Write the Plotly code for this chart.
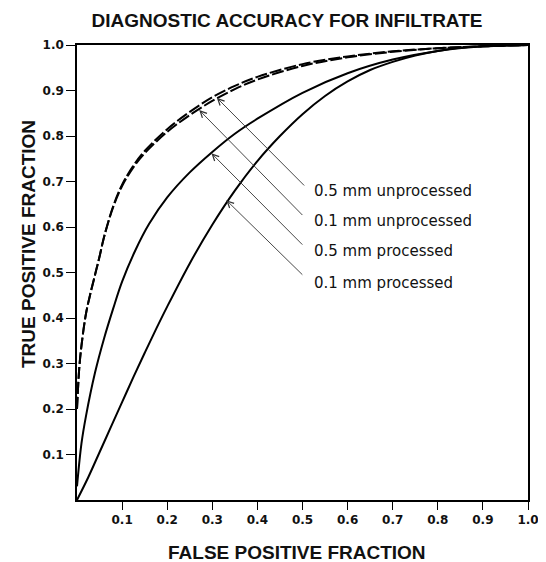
import plotly.graph_objects as go

# ---- data ----
fpf_dash = [0, 0.005, 0.01, 0.02, 0.03, 0.04, 0.05, 0.06, 0.08, 0.1, 0.125, 0.15, 0.2, 0.25,
            0.3, 0.35, 0.4, 0.5, 0.6, 0.7, 0.8, 0.9, 1.0]
tpf_05_unproc = [0.2, 0.29, 0.34, 0.41, 0.455, 0.495, 0.535, 0.578, 0.645, 0.693, 0.735, 0.767, 0.815,
                 0.853, 0.885, 0.91, 0.93, 0.958, 0.975, 0.986, 0.993, 0.997, 1.0]
tpf_01_unproc = [0.2, 0.29, 0.34, 0.41, 0.455, 0.495, 0.535, 0.578, 0.643, 0.69, 0.731, 0.762, 0.809,
                 0.846, 0.877, 0.903, 0.924, 0.954, 0.973, 0.985, 0.993, 0.997, 1.0]

fpf_mid = [0, 0.01, 0.02, 0.04, 0.06, 0.08, 0.1, 0.13, 0.16, 0.2, 0.25, 0.3, 0.35, 0.4,
           0.5, 0.6, 0.7, 0.8, 0.9, 1.0]
tpf_05_proc = [0.03, 0.125, 0.185, 0.28, 0.355, 0.42, 0.48, 0.55, 0.607, 0.665, 0.72, 0.765, 0.805,
               0.838, 0.895, 0.938, 0.968, 0.987, 0.997, 1.0]

fpf_low = [0, 0.025, 0.05, 0.075, 0.1, 0.125, 0.15, 0.175, 0.2, 0.25, 0.3, 0.35, 0.4, 0.45, 0.5,
           0.55, 0.6, 0.65, 0.7, 0.75, 0.8, 0.85, 0.9, 1.0]
tpf_01_proc = [0, 0.05, 0.105, 0.16, 0.215, 0.27, 0.323, 0.375, 0.425, 0.52, 0.605, 0.68, 0.745,
               0.8, 0.848, 0.888, 0.92, 0.945, 0.963, 0.977, 0.987, 0.994, 0.997, 1.0]

tick_vals = [0.1, 0.2, 0.3, 0.4, 0.5, 0.6, 0.7, 0.8, 0.9, 1.0]
tick_text = ["0.1", "0.2", "0.3", "0.4", "0.5", "0.6", "0.7", "0.8", "0.9", "1.0"]

labels = ["0.5 mm unprocessed", "0.1 mm unprocessed", "0.5 mm processed", "0.1 mm processed"]
arrow_tip_x = [0.31, 0.271, 0.298, 0.331]
arrow_tip_y = [0.884, 0.857, 0.762, 0.659]
arrow_tail_x = [0.507, 0.503, 0.503, 0.503]
arrow_tail_y = [0.688, 0.623, 0.558, 0.492]
label_x = [0.521, 0.521, 0.521, 0.521]
label_y = [0.680, 0.614, 0.548, 0.478]

# page body has an 8px default margin; compensate so the plot lands where the reference has it
OFF = 8
W, H = 546 - OFF, 562 - OFF

# ---- figure ----
fig = go.Figure()
dash_style = dict(color="black", width=2, dash="12px,3px")
solid_style = dict(color="black", width=2)
fig.add_trace(go.Scatter(x=fpf_dash, y=tpf_05_unproc, mode="lines", line=dash_style,
                         line_shape="spline", name=labels[0]))
fig.add_trace(go.Scatter(x=fpf_dash, y=tpf_01_unproc, mode="lines", line=dash_style,
                         line_shape="spline", name=labels[1]))
fig.add_trace(go.Scatter(x=fpf_mid, y=tpf_05_proc, mode="lines", line=solid_style,
                         line_shape="spline", name=labels[2]))
fig.add_trace(go.Scatter(x=fpf_low, y=tpf_01_proc, mode="lines", line=solid_style,
                         line_shape="spline", name=labels[3]))

for i, lab in enumerate(labels):
    fig.add_annotation(x=arrow_tip_x[i], y=arrow_tip_y[i], ax=arrow_tail_x[i], ay=arrow_tail_y[i],
                       xref="x", yref="y", axref="x", ayref="y", text="", showarrow=True,
                       arrowhead=5, arrowsize=1.4, arrowwidth=0.9, arrowcolor="#333")
    fig.add_annotation(x=label_x[i], y=label_y[i], xref="x", yref="y", text=lab,
                       showarrow=False, xanchor="left", yanchor="middle",
                       font=dict(family="DejaVu Sans", size=15, color="#111"))

fig.add_annotation(x=(297 - 77) / 451, y=-(552 - 500) / 455, xref="paper", yref="paper",
                   text="FALSE POSITIVE FRACTION", showarrow=False, xanchor="center", yanchor="middle",
                   font=dict(family="Liberation Sans", size=19, color="#111", weight="bold"))
fig.add_annotation(x=(28 - 77) / 451, y=(500 - 244) / 455, xref="paper", yref="paper",
                   text="TRUE POSITIVE FRACTION", showarrow=False, textangle=-90,
                   xanchor="center", yanchor="middle",
                   font=dict(family="Liberation Sans", size=19, color="#111", weight="bold"))

axis_common = dict(range=[0, 1], showgrid=False, zeroline=False, showline=True, linecolor="black",
                   linewidth=1.5, mirror=True, ticks="outside", tickcolor="black", tickwidth=1.3,
                   tickvals=tick_vals, ticktext=tick_text, automargin=False,
                   tickfont=dict(family="DejaVu Sans", size=12, color="#111", weight="bold"))
fig.update_xaxes(**axis_common, ticklen=8)
fig.update_yaxes(**axis_common, ticklen=9)

fig.update_layout(
    width=W, height=H,
    margin=dict(l=77 - OFF, r=18, t=45 - OFF, b=62, autoexpand=False),
    paper_bgcolor="white", plot_bgcolor="white",
    showlegend=False,
    title=dict(text="DIAGNOSTIC ACCURACY FOR INFILTRATE", x=(287 - OFF) / W, xanchor="center",
               y=1 - (20 - OFF) / H, yanchor="middle",
               font=dict(family="Liberation Sans", size=19, color="#111", weight="bold")),
)

fig.write_html("out.html")
